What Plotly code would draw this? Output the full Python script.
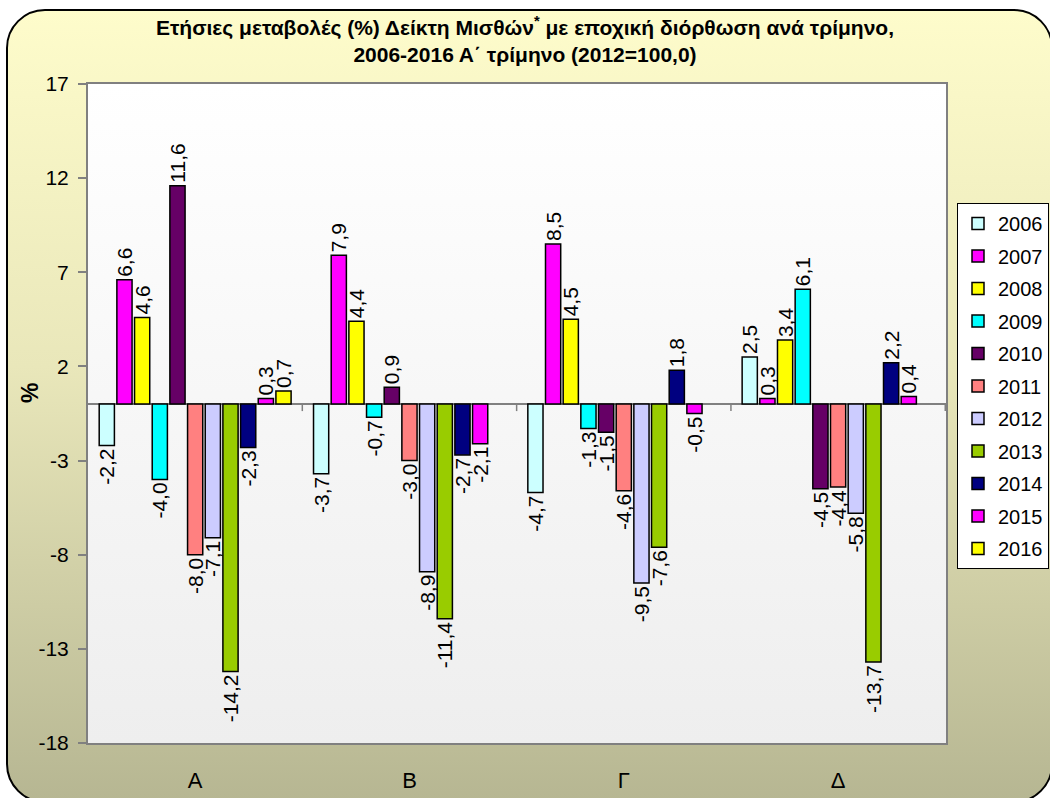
import base64
import plotly.graph_objects as go

# ---------------- data ----------------
categories = ["Α", "Β", "Γ", "Δ"]
years = ["2006", "2007", "2008", "2009", "2010", "2011",
         "2012", "2013", "2014", "2015", "2016"]

v2006 = [-2.2, -3.7, -4.7, 2.5]
v2007 = [6.6, 7.9, 8.5, 0.3]
v2008 = [4.6, 4.4, 4.5, 3.4]
v2009 = [-4.0, -0.7, -1.3, 6.1]
v2010 = [11.6, 0.9, -1.5, -4.5]
v2011 = [-8.0, -3.0, -4.6, -4.4]
v2012 = [-7.1, -8.9, -9.5, -5.8]
v2013 = [-14.2, -11.4, -7.6, -13.7]
v2014 = [-2.3, -2.7, 1.8, 2.2]
v2015 = [0.3, -2.1, -0.5, 0.4]
v2016 = [0.7, None, None, None]

series_values = [v2006, v2007, v2008, v2009, v2010, v2011,
                 v2012, v2013, v2014, v2015, v2016]

y_ticks = [-18, -13, -8, -3, 2, 7, 12, 17]

# ---------------- style ----------------
colors = ["#CCFFFF", "#FF00FF", "#FFFF00", "#00FFFF", "#660066", "#FF8080",
          "#CCCCFF", "#99CC00", "#000080", "#FF00FF", "#FFFF00"]

W, H = 1050, 798
ML, MR, MT, MB = 88, 104, 84, 55
PW, PH = W - ML - MR, H - MT - MB

FONT = "Liberation Sans, Arial, sans-serif"


def svg_uri(svg):
    return "data:image/svg+xml;base64," + base64.b64encode(svg.encode("utf-8")).decode("ascii")


bg_svg = f'''<svg xmlns="http://www.w3.org/2000/svg" width="{W}" height="{H}" viewBox="0 0 {W} {H}" preserveAspectRatio="none">
<defs><linearGradient id="g" x1="0" y1="0" x2="0" y2="1">
<stop offset="0" stop-color="#FEFCCB"/><stop offset="0.45" stop-color="#E9E7BA"/><stop offset="1" stop-color="#B6B692"/>
</linearGradient></defs>
<rect x="7" y="10" width="1045" height="792" rx="38" ry="38" fill="url(#g)" stroke="#000" stroke-width="2"/>
</svg>'''

plot_svg = f'''<svg xmlns="http://www.w3.org/2000/svg" width="{PW}" height="{PH}" viewBox="0 0 {PW} {PH}" preserveAspectRatio="none">
<defs><linearGradient id="p" x1="0" y1="0" x2="0" y2="1">
<stop offset="0" stop-color="#FFFFFF"/><stop offset="1" stop-color="#EEEEEE"/>
</linearGradient></defs>
<rect x="0" y="0" width="{PW}" height="{PH}" fill="url(#p)"/>
</svg>'''


def fmt(v):
    return f"{v:.1f}".replace(".", ",")


fig = go.Figure()
for yr, vals, col in zip(years, series_values, colors):
    xs = [c for c, v in zip(categories, vals) if v is not None]
    ys = [v for v in vals if v is not None]
    fig.add_trace(go.Bar(
        name=yr, x=xs, y=ys,
        marker=dict(color=col, line=dict(color="#000000", width=1.5)),
        text=[fmt(v) for v in ys],
        textposition="outside", textangle=-90,
        textfont=dict(family=FONT, size=21, color="#000000"),
        constraintext="none", cliponaxis=False,
        legendgroup=yr,
    ))

shapes = []
for xb in [0.5, 1.5, 2.5, 3.5]:
    shapes.append(dict(type="line", xref="x", yref="y", ysizemode="pixel",
                       yanchor=0, x0=xb, x1=xb, y0=0, y1=-7,
                       line=dict(color="#808080", width=1.5)))

fig.update_layout(
    width=W, height=H,
    margin=dict(l=ML, r=MR, t=MT, b=MB, autoexpand=False),
    paper_bgcolor="rgba(0,0,0,0)",
    plot_bgcolor="rgba(0,0,0,0)",
    barmode="group", bargap=0.093, bargroupgap=0.14,
    font=dict(family=FONT, color="#000000"),
    title=dict(
        text="Ετήσιες μεταβολές (%) Δείκτη Μισθών<sup>*</sup> με εποχική διόρθωση ανά τρίμηνο,<br>2006-2016 Α΄ τρίμηνο (2012=100,0)",
        font=dict(family=FONT, size=21, color="#000000", weight="bold"),
        x=0.5, xanchor="center", xref="container",
        y=1 - 35 / H, yanchor="middle", yref="container",
        automargin=False,
    ),
    xaxis=dict(
        type="category", showgrid=False, ticks="", showline=True, mirror=True,
        linecolor="#808080", linewidth=2, automargin=False,
        tickfont=dict(family=FONT, size=22, color="#000000"),
        ticklabelstandoff=17,
    ),
    yaxis=dict(
        range=[-18, 17], tickvals=y_ticks, ticktext=[str(t) for t in y_ticks],
        showgrid=False, ticks="outside", ticklen=8, tickcolor="#808080", tickwidth=1.5,
        showline=True, mirror=True, linecolor="#808080", linewidth=2,
        zeroline=True, zerolinecolor="#808080", zerolinewidth=2, automargin=False,
        tickfont=dict(family=FONT, size=21, color="#000000"),
        ticklabelstandoff=5,
    ),
    legend=dict(
        x=(957 - ML) / PW, xanchor="left", y=(H - MB - 203) / PH, yanchor="top",
        bgcolor="#FFFFFF", bordercolor="#000000", borderwidth=1,
        font=dict(family=FONT, size=20, color="#000000"),
        tracegroupgap=3.5, itemwidth=30, traceorder="grouped",
    ),
    shapes=shapes,
    annotations=[dict(
        text="<b>%</b>", xref="paper", yref="paper",
        x=(30 - ML) / PW, y=(H - MB - 393) / PH, showarrow=False,
        xanchor="center", yanchor="middle",
        textangle=-90, font=dict(family=FONT, size=23, color="#000000"),
    )],
    images=[
        dict(source=svg_uri(bg_svg), xref="paper", yref="paper",
             x=-ML / PW, y=1 + MT / PH, sizex=W / PW, sizey=H / PH,
             xanchor="left", yanchor="top", sizing="stretch", layer="below"),
        dict(source=svg_uri(plot_svg), xref="paper", yref="paper",
             x=0, y=1, sizex=1, sizey=1,
             xanchor="left", yanchor="top", sizing="stretch", layer="below"),
    ],
)

fig.write_html("out.html", config={"displayModeBar": False},
               post_script="document.body.style.margin='0px';document.body.style.overflow='hidden';")
